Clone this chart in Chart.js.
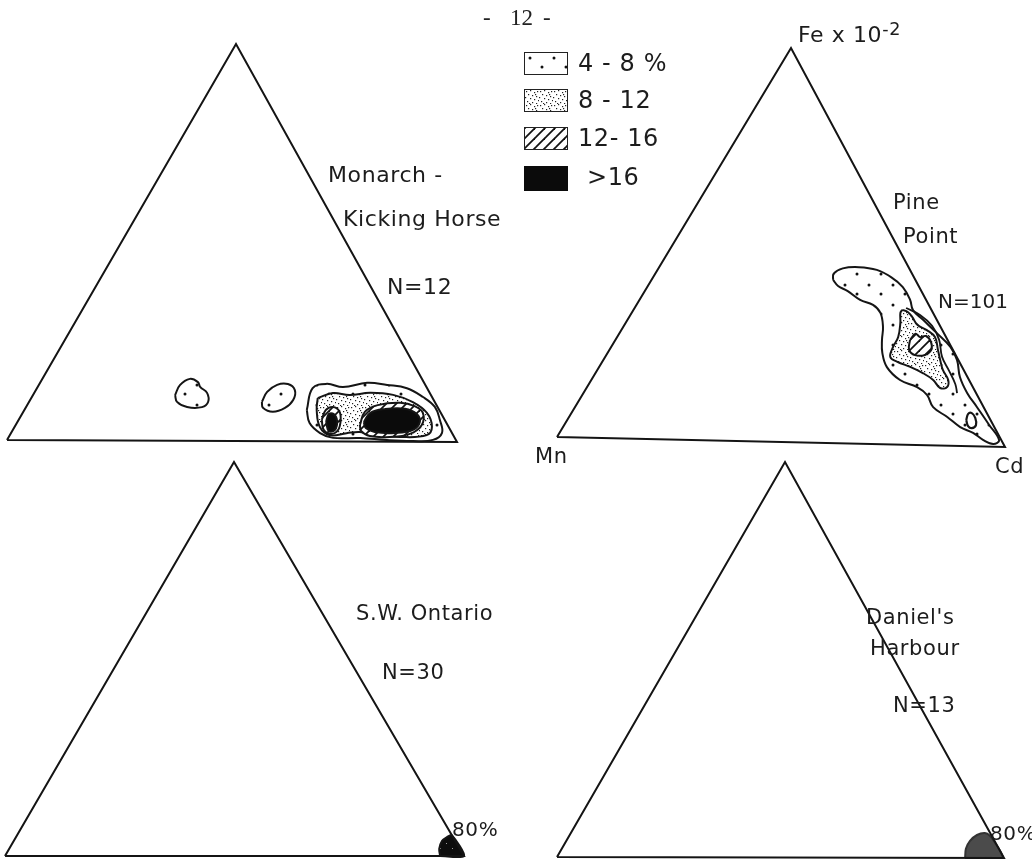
<!DOCTYPE html>
<html>
<head>
<meta charset="utf-8">
<title>Mn - Cd - Fe ternary diagrams</title>
<script src="https://cdn.jsdelivr.net/npm/chart.js@4.4.1/dist/chart.umd.min.js"></script>
<style>
  html, body { margin: 0; padding: 0; background: #fff; }
  #wrap { position: relative; width: 1032px; height: 859px; overflow: hidden; background: #fff; }
  #plot { position: absolute; left: 0; top: 0; }
  .lbl { position: absolute; font-family: "DejaVu Sans", "Liberation Sans", sans-serif; color: #1c1c1c;
         white-space: nowrap; line-height: 1; letter-spacing: 0.6px; }
  .lbl sup { font-size: 0.8em; position: relative; top: -0.15em; vertical-align: top; }
  .folio { position: absolute; font-family: "Liberation Serif", "DejaVu Serif", serif; color: #222;
           white-space: pre; line-height: 1; }
  .key { position: absolute; box-sizing: border-box; border: 1.6px solid #222; }
</style>
</head>
<body>
<div id="wrap"><canvas id="plot" width="1032" height="859"></canvas></div>
<script>
// ---- data: compositions as [Cd %, Fe x10^-2 %]; Mn is the remainder ----
const contourClasses = ['4 - 8 %', '8 - 12', '12- 16', '>16'];
const sampleCounts = [12, 101, 30, 13];
const cornerLabel = ['Mn', 'Cd', 'Fe x 10', '-2'];
const thresholdLabel = '80%';
const pageNumber = '12';

// Monarch - Kicking Horse
const monarchPatchWest = [[31.5,11.5],[31.3,14.0],[32.7,15.6],[34.9,14.8],[36.0,13.6],[38.3,12.1],[39.7,9.8],[39.0,8.5],[35.7,8.5],[32.8,9.8]];
const monarchPatchMid  = [[51.6,9.9],[51.5,12.4],[52.8,14.2],[55.1,14.4],[57.4,12.9],[58.3,10.4],[57.5,8.4],[55.3,7.4],[52.6,8.4]];
const monarchOuter = [[62.6,7.9],[61.1,13.4],[63.7,14.5],[67.7,13.7],[72.5,14.8],[77.2,14.3],[82.0,13.5],[86.7,11.3],[90.6,8.8],[93.4,5.5],[95.5,2.3],[94.4,0.5],[90.1,0.2],[84.2,0.4],[78.0,0.9],[72.0,0.9],[68.5,2.1],[64.9,4.6]];
const monarchInner = [[63.5,10.9],[66.2,12.2],[70.2,11.7],[74.4,12.3],[79.8,11.8],[85.1,10.0],[89.6,7.3],[92.5,3.8],[92.4,1.7],[86.7,1.2],[80.5,1.7],[77.2,2.4],[74.4,2.1],[70.9,1.6],[67.7,3.6],[64.8,7.9]];
const monarchWestHatch = [[67.2,5.4],[66.8,7.9],[68.0,8.7],[69.9,7.7],[71.4,5.4],[72.1,2.9],[71.0,1.9],[68.9,2.9]];
const monarchWestSolid = [[68.4,4.9],[68.0,6.9],[69.1,6.9],[70.7,5.2],[71.4,2.9],[70.2,2.6]];
const monarchEastHatch = [[76.3,4.2],[75.7,7.5],[77.7,9.2],[82.4,9.8],[86.0,9.0],[88.7,7.3],[90.0,4.2],[88.5,2.0],[84.5,1.2],[79.9,1.4],[77.3,2.7]];
const monarchEastSolid = [[76.8,4.9],[77.0,7.2],[79.8,8.2],[84.2,8.3],[87.5,7.0],[89.2,5.0],[88.7,3.0],[85.1,2.2],[80.5,2.4],[78.0,3.4]];

// Pine Point
const pineOuter = [[40.0,41.4],[39.3,43.0],[40.6,44.4],[44.0,44.8],[48.3,44.2],[52.5,42.4],[56.3,40.0],[59.6,36.8],[61.6,34.2],[65.1,31.8],[69.9,28.5],[74.7,25.1],[77.9,21.8],[80.8,17.5],[84.5,13.5],[88.5,10.0],[93.6,5.5],[97.8,1.7],[97.0,0.7],[94.2,1.7],[91.1,3.4],[87.5,4.8],[83.3,7.3],[78.9,9.7],[75.9,12.8],[72.7,14.7],[68.0,16.4],[63.4,19.6],[60.5,23.2],[58.7,26.5],[57.2,29.8],[54.8,33.3],[52.1,35.3],[48.6,36.5],[44.6,38.7],[41.9,39.9]];
const pineRidge = [[59.8,34.7],[63.8,33.0],[67.9,30.3],[71.3,26.8],[74.2,22.5],[77.6,19.0],[80.7,15.7],[82.3,13.4]];
const pineInner = [[59.2,34.2],[60.7,33.7],[62.3,32.5],[64.5,30.5],[67.3,29.2],[70.0,27.5],[72.4,24.2],[74.2,21.7],[76.1,19.2],[78.6,16.7],[79.3,14.9],[77.9,14.6],[75.3,16.6],[72.1,18.3],[68.5,19.8],[65.0,21.0],[62.8,22.2],[62.1,24.7],[61.9,27.3],[60.5,30.9],[59.2,33.4]];
const pineCore = [[64.9,26.6],[65.3,28.2],[66.7,27.4],[67.9,27.7],[69.8,26.2],[70.9,24.2],[70.2,22.9],[68.0,22.8],[66.0,24.1]];
const pineIsle = [[87.9,6.6],[87.5,8.2],[88.2,8.4],[89.6,7.2],[90.7,5.4],[90.2,4.6],[89.1,5.1]];

// S.W. Ontario and Daniel's Harbour: everything above 80 % Cd
const ontarioCorner = [[94.8,0],[93.7,1.8],[93.3,3.8],[93.9,4.8],[94.7,5.3],[100,0]];
const danielsCorner = [[91.3,0],[90.3,2.3],[90.2,4.3],[91.0,5.8],[92.5,6.3],[94.0,5.6],[96.4,3.5],[98.7,1.3],[99.6,0]];

const triangleCorners = [[0,0],[100,0],[0,100],[0,0]]; // Mn, Cd, Fe, back to Mn

// ---- page layout: where each triangle's corners sit ----
const frames = {
  monarch: { mn: [7, 440],  cd: [457, 442],  fe: [236, 44] },
  pine:    { mn: [557, 437], cd: [1005, 447], fe: [791, 48] },
  ontario: { mn: [5, 856],  cd: [464, 856],  fe: [234, 462] },
  daniels: { mn: [557, 857], cd: [1004, 858], fe: [785, 462] }
};

function place(frame, p) {
  const cd = p[0] / 100, fe = p[1] / 100;
  return {
    x: frame.mn[0] + (frame.cd[0] - frame.mn[0]) * cd + (frame.fe[0] - frame.mn[0]) * fe,
    y: frame.mn[1] + (frame.cd[1] - frame.mn[1]) * cd + (frame.fe[1] - frame.mn[1]) * fe
  };
}

// ---- fill textures ----
function tile(w, h, paint) {
  const c = document.createElement('canvas');
  c.width = w; c.height = h;
  const g = c.getContext('2d');
  paint(g, w, h);
  return c;
}
const sparseDots = tile(24, 20, (g, w, h) => {
  g.fillStyle = '#fff'; g.fillRect(0, 0, w, h);
  g.fillStyle = '#111';
  [[5, 5], [17, 14]].forEach(([x, y]) => { g.beginPath(); g.arc(x, y, 1.5, 0, Math.PI * 2); g.fill(); });
});
const stipple = tile(14, 14, (g, w, h) => {
  g.fillStyle = '#fff'; g.fillRect(0, 0, w, h);
  g.fillStyle = '#222';
  [[1,1],[5,0],[9,2],[12,1],[3,4],[7,5],[11,6],[0,7],[5,8],[9,9],[13,10],[2,11],[7,12],[11,13],[4,13],[10,4]]
    .forEach(([x, y]) => g.fillRect(x, y, 1.2, 1.2));
});
const hatch = tile(10, 10, (g, w, h) => {
  g.fillStyle = '#fff'; g.fillRect(0, 0, w, h);
  g.strokeStyle = '#111'; g.lineWidth = 1.8;
  [-10, 0, 10].forEach(o => { g.beginPath(); g.moveTo(o - 1, h + 1); g.lineTo(o + w + 1, -1); g.stroke(); });
});
const speckledBlack = tile(12, 12, (g, w, h) => {
  g.fillStyle = '#0d0d0d'; g.fillRect(0, 0, w, h);
  g.fillStyle = '#9a9a9a';
  [[2,3],[8,8]].forEach(([x, y]) => g.fillRect(x, y, 1, 1));
});

const canvas = document.getElementById('plot');
const ctx = canvas.getContext('2d');
const pat = t => ctx.createPattern(t, 'repeat');

function triangle(frame) {
  return { data: triangleCorners.map(p => place(frame, p)), borderColor: '#141414', borderWidth: 2,
           fill: false, tension: 0, order: 0, pointRadius: 0, clip: false };
}
function region(frame, pts, fillStyle, order, extra) {
  const ring = pts.concat([pts[0]]).map(p => place(frame, p));
  return Object.assign({ data: ring, borderColor: '#151515', borderWidth: 2, backgroundColor: fillStyle,
           fill: 'shape', tension: 0.4, order: order, pointRadius: 0, clip: false }, extra || {});
}
function trace(frame, pts, order) {
  return { data: pts.map(p => place(frame, p)), borderColor: '#151515', borderWidth: 1.8,
           fill: false, tension: 0.4, order: order, pointRadius: 0, clip: false };
}

const F = frames;
const datasets = [
  triangle(F.monarch), triangle(F.pine), triangle(F.ontario), triangle(F.daniels),
  region(F.monarch, monarchPatchWest, pat(sparseDots), 6),
  region(F.monarch, monarchPatchMid, pat(sparseDots), 6),
  region(F.monarch, monarchOuter, pat(sparseDots), 6),
  region(F.monarch, monarchInner, pat(stipple), 5),
  region(F.monarch, monarchWestHatch, pat(hatch), 4),
  region(F.monarch, monarchEastHatch, pat(hatch), 4),
  region(F.monarch, monarchWestSolid, '#0b0b0b', 3),
  region(F.monarch, monarchEastSolid, '#0b0b0b', 3),
  region(F.pine, pineOuter, pat(sparseDots), 6),
  trace(F.pine, pineRidge, 5.5),
  region(F.pine, pineInner, pat(stipple), 5),
  region(F.pine, pineCore, pat(hatch), 4),
  region(F.pine, pineIsle, '#ffffff', 4, { borderWidth: 2.2 }),
  region(F.ontario, ontarioCorner, pat(speckledBlack), 3, { tension: 0.25 }),
  region(F.daniels, danielsCorner, '#4b4b4b', 3, { tension: 0.3, borderColor: '#333' })
];

new Chart(ctx, {
  type: 'line',
  data: { datasets },
  options: {
    responsive: false,
    animation: false,
    events: [],
    layout: { padding: 0 },
    plugins: { legend: { display: false }, tooltip: { enabled: false } },
    scales: {
      x: { type: 'linear', min: 0, max: 1032, display: false },
      y: { type: 'linear', min: 0, max: 859, reverse: true, display: false }
    },
    elements: { point: { radius: 0, hitRadius: 0 } }
  }
});

// ---- text and key ----
const wrap = document.getElementById('wrap');
function text(str, x, y, size, cls) {
  const d = document.createElement('div');
  d.className = cls || 'lbl';
  d.style.left = x + 'px';
  d.style.top = y + 'px';
  d.style.fontSize = size + 'px';
  d.innerHTML = str;
  wrap.appendChild(d);
  return d;
}
text('-', 483, 6, 23, 'folio');
text(pageNumber, 510, 6, 23, 'folio');
text('-', 543, 6, 23, 'folio');

const keyFills = [sparseDots, stipple, hatch, null];
const keyRows = [52, 89, 127, 166];
contourClasses.forEach((name, i) => {
  const b = document.createElement('div');
  b.className = 'key';
  b.style.left = '524px'; b.style.top = keyRows[i] + 'px';
  b.style.width = '44px'; b.style.height = (i === 3 ? 25 : 23) + 'px';
  if (keyFills[i]) b.style.backgroundImage = 'url(' + keyFills[i].toDataURL() + ')';
  else { b.style.background = '#0b0b0b'; b.style.borderColor = '#0b0b0b'; }
  wrap.appendChild(b);
  text(name, i === 3 ? 587 : 578, keyRows[i] - 1, 24);
});

text('Monarch -', 328, 164, 22);
text('Kicking Horse', 343, 208, 22);
text('N=' + sampleCounts[0], 387, 276, 22);

text(cornerLabel[2] + '<sup>' + cornerLabel[3] + '</sup>', 798, 24, 22);
text('Pine', 893, 192, 21);
text('Point', 903, 226, 21);
text('N=' + sampleCounts[1], 938, 291, 20).style.letterSpacing = '0px';
text(cornerLabel[0], 535, 446, 21);
text(cornerLabel[1], 995, 456, 21);

text('S.W. Ontario', 356, 603, 21);
text('N=' + sampleCounts[2], 382, 662, 21);
text(thresholdLabel, 452, 819, 20);

text("Daniel's", 866, 607, 21);
text('Harbour', 870, 638, 21);
text('N=' + sampleCounts[3], 893, 695, 21);
text(thresholdLabel, 990, 823, 20);
</script>
</body>
</html>
